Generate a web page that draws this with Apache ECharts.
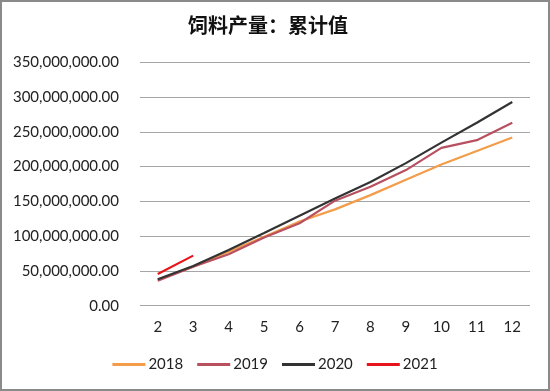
<!DOCTYPE html>
<html><head><meta charset="utf-8">
<script src="https://cdn.jsdelivr.net/npm/echarts@6/dist/echarts.min.js"></script>
<style>
html,body{margin:0;padding:0;background:#fff;}
#frame{position:absolute;left:0;top:0;width:546px;height:387px;border:2px solid #8a8a8a;}
#c{position:absolute;left:0;top:0;width:550px;height:391px;}
</style></head><body>
<div id="c"></div><div id="frame"></div>
<script>
const months = ['2','3','4','5','6','7','8','9','10','11','12'];
const s2018 = [37e6, 56e6, 77.5e6, 99e6, 121e6, 138.5e6, 159e6, 181e6, 203e6, 222.5e6, 242e6];
const s2019 = [36e6, 56e6, 74e6, 98e6, 118.5e6, 151e6, 171e6, 195e6, 227e6, 238e6, 263e6];
const s2020 = [38e6, 57e6, 80e6, 104.5e6, 129.5e6, 154e6, 178e6, 205e6, 234.5e6, 263e6, 293e6];
const s2021 = [45.5e6, 72e6];
const yTicks = [0, 50e6, 100e6, 150e6, 200e6, 250e6, 300e6, 350e6];
const seriesNames = ['2018','2019','2020','2021'];
const colors = ['#F39C4A','#B9505F','#333333','#E8141B'];

const chart = echarts.init(document.getElementById('c'));
const fmt = v => v.toLocaleString('en-US',{minimumFractionDigits:2,maximumFractionDigits:2});
const data = [s2018, s2019, s2020, s2021];
chart.setOption({
  animation:false,
  title:{text:'饲料产量：累计值',left:183,top:10,textStyle:{fontFamily:'Noto Sans CJK SC',fontSize:20,fontWeight:'bold',color:'#111'}},
  grid:{left:140,right:20,top:62.3,bottom:391-305.7},
  legend:{bottom:14,left:'center',itemGap:14,itemWidth:33,itemHeight:3,icon:'rect',
    textStyle:{fontFamily:'Lato',fontSize:15,color:'#222',padding:[0,0,0,-2]},
    data:seriesNames},
  xAxis:{type:'category',data:months,boundaryGap:true,
    axisLine:{show:false},axisTick:{show:false},
    axisLabel:{fontFamily:'Lato',fontSize:15,color:'#222',margin:14}},
  yAxis:{type:'value',min:yTicks[0],max:yTicks[yTicks.length-1],interval:50e6,
    axisLabel:{fontFamily:'Lato',fontSize:15,color:'#222',margin:21,formatter:fmt},
    splitLine:{lineStyle:{color:'#a6a6a6',width:1}},axisLine:{show:false},axisTick:{show:false}},
  series: seriesNames.map((n,i)=>({name:n,type:'line',data:data[i],showSymbol:false,symbol:'none',
    lineStyle:{color:colors[i],width:2.2},itemStyle:{color:colors[i]},z:i===3?5:2}))
});
</script></body></html>
